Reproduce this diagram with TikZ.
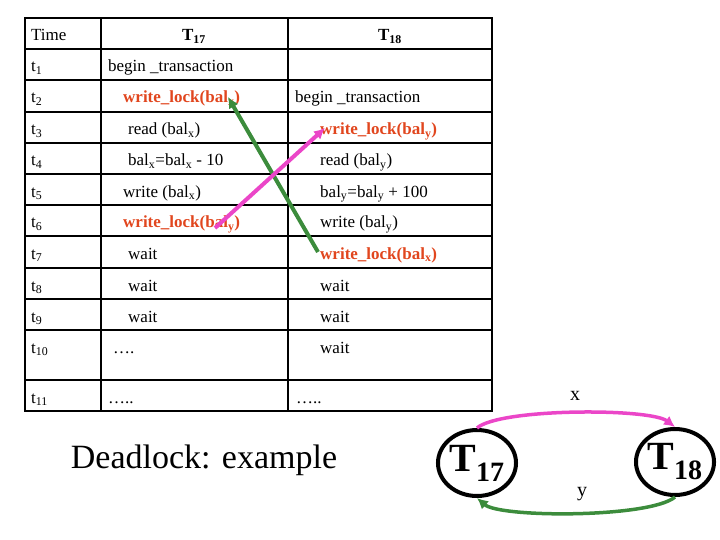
\documentclass[tikz,border=0pt]{standalone}
\usepackage{fontspec}
\setmainfont{Liberation Serif}
\usetikzlibrary{arrows.meta,shapes.geometric}
\definecolor{lockred}{RGB}{225,70,30}
\definecolor{mag}{RGB}{235,70,200}
\definecolor{grn}{RGB}{60,140,60}
\begin{document}
\begin{tikzpicture}[x=1pt,y=-1pt,
  cell/.style={anchor=base west,inner sep=0pt,font=\fontsize{17}{19}\selectfont},
  lock/.style={cell,text=lockred,font=\fontsize{17}{19}\selectfont\bfseries},
  grid/.style={line width=2pt},
  arr/.style={line width=4pt,-{Latex[length=11pt,width=11pt]}},
  vert/.style={draw,line width=4pt,ellipse,minimum width=78pt,minimum height=66pt,inner sep=0pt,font=\fontsize{40}{42}\selectfont\bfseries}]
\useasboundingbox (0,0) rectangle (720,540);
% table
\draw[grid] (25,18) rectangle (492,411);
\foreach \y in {49,80,112,143,174,205,236,268,299,330,380} \draw[grid] (25,\y) -- (492,\y);
\draw[grid] (101,18) -- (101,411);
\draw[grid] (288,18) -- (288,411);
% header
\node[cell] (h0) at (31,41) {Time};
\node[cell,anchor=base,font=\fontsize{17}{19}\selectfont\bfseries] (h1) at (194,41) {T\textsubscript{17}};
\node[cell,anchor=base,font=\fontsize{17}{19}\selectfont\bfseries] (h2) at (390,41) {T\textsubscript{18}};
% time column
\foreach \i/\y in {1/72,2/103,3/135,4/166,5/197,6/228,7/259,8/291,9/322,10/353,11/403}
  \node[cell] (t\i) at (31,\y) {t\textsubscript{\i}};
% T17
\node[cell] (a1) at (108,72) {begin \_transaction};
\node[lock] (a2) at (123,103) {write\_lock(bal\textsubscript{x})};
\node[cell] (a3) at (128,135) {read (bal\textsubscript{x})};
\node[cell] (a4) at (128,166) {bal\textsubscript{x}=bal\textsubscript{x} - 10};
\node[cell] (a5) at (123,197) {write (bal\textsubscript{x})};
\node[lock] (a6) at (123,228) {write\_lock(bal\textsubscript{y})};
\node[cell] (a7) at (128,259) {wait};
\node[cell] (a8) at (128,291) {wait};
\node[cell] (a9) at (128,322) {wait};
\node[cell] (a10) at (113,353) {\ldots.};
\node[cell] (a11) at (108,403) {\ldots..};
% T18
\node[cell] (b2) at (295,103) {begin \_transaction};
\node[lock] (b3) at (320,135) {write\_lock(bal\textsubscript{y})};
\node[cell] (b4) at (320,166) {read (bal\textsubscript{y})};
\node[cell] (b5) at (320,197) {bal\textsubscript{y}=bal\textsubscript{y} + 100};
\node[cell] (b6) at (320,228) {write (bal\textsubscript{y})};
\node[lock] (b7) at (320,259) {write\_lock(bal\textsubscript{x})};
\node[cell] (b8) at (320,291) {wait};
\node[cell] (b9) at (320,322) {wait};
\node[cell] (b10) at (320,353) {wait};
\node[cell] (b11) at (296,403) {\ldots..};
% crossing arrows
\coordinate (g0) at (318,252);
\coordinate (g1) at (228,97);
\coordinate (m0) at (215,228);
\coordinate (m1) at (325,128);
\draw[arr,grn] (g0) -- (g1);
\draw[arr,mag] (m0) -- (m1);
% title
\node[font=\fontsize{34}{37}\selectfont] (title) at (204,460) {Deadlock: example};
% wait-for graph
\node[vert] (T17) at (477,463) {T\textsubscript{17}};
\node[vert] (T18) at (675,462) {T\textsubscript{18}};
\draw[arr,mag,line width=3.5pt] (T17.north) .. controls (500,408) and (650,408) .. (T18.north);
\draw[arr,grn,line width=3.5pt] (T18.south) .. controls (650,518) and (500,518) .. (T17.south);
\node[font=\fontsize{20}{22}\selectfont] (lx) at (575,396) {x};
\node[font=\fontsize{20}{22}\selectfont] (ly) at (582,494) {y};
\end{tikzpicture}
\end{document}
